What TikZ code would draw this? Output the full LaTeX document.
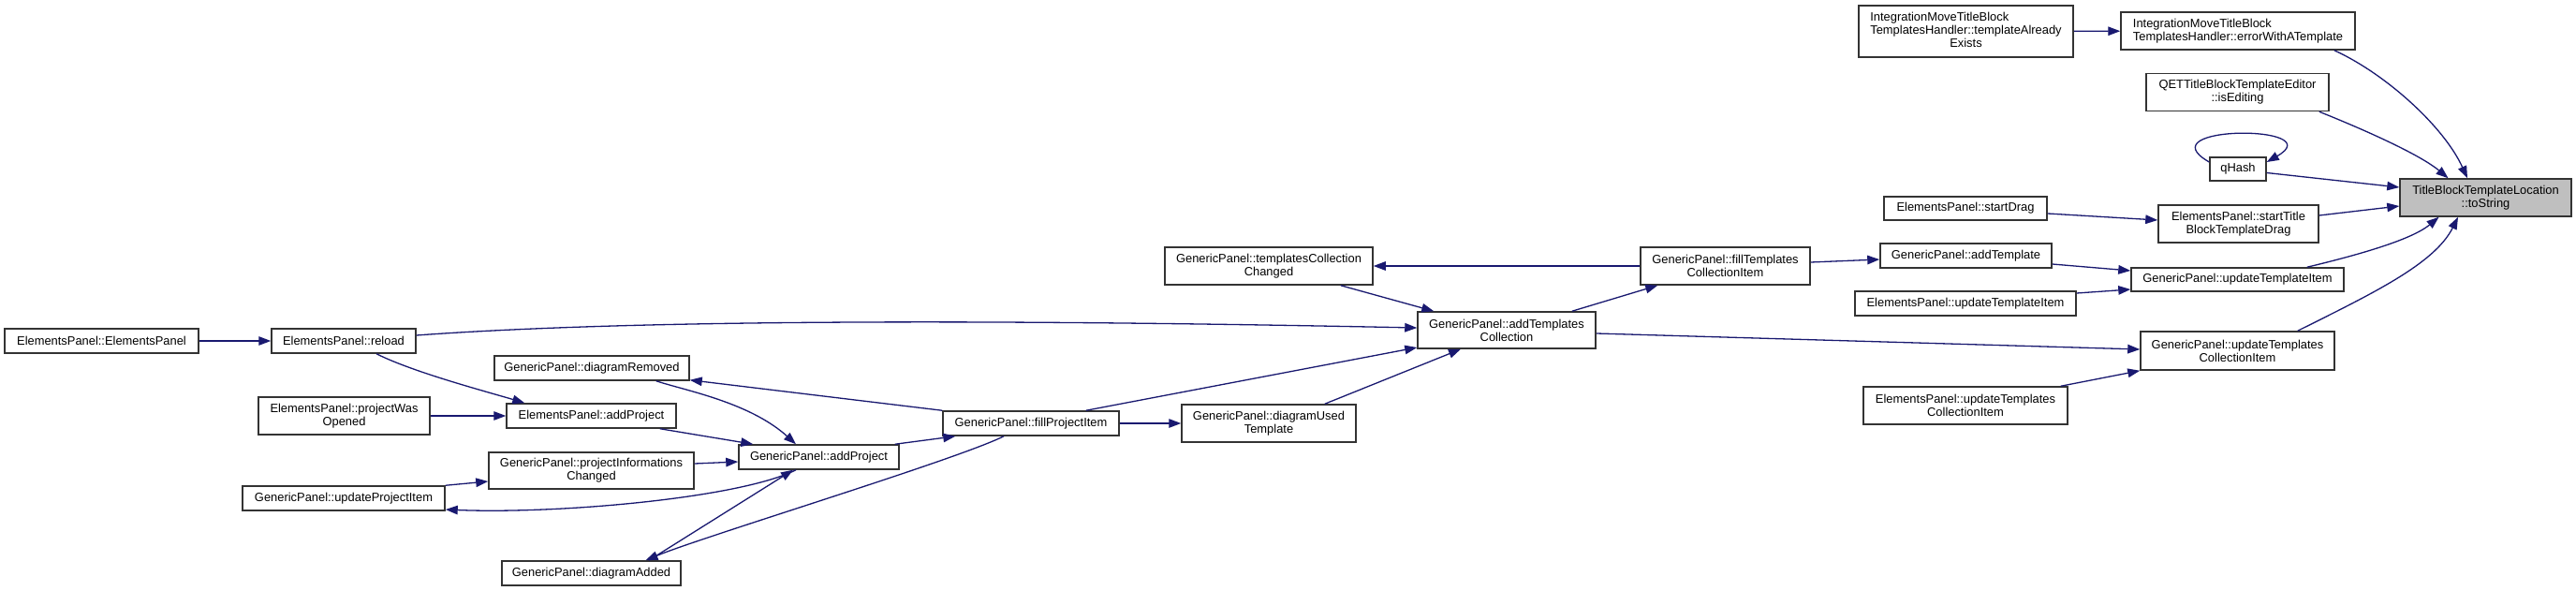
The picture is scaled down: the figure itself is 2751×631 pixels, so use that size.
\documentclass[tikz,border=0pt]{standalone}
\usepackage{fontspec}
\newfontfamily\graphfont{Liberation Sans}
\usetikzlibrary{arrows.meta}
\definecolor{midnight}{HTML}{191970}

\begin{document}
\begin{tikzpicture}[
  x=1pt,
  y=-1pt,
  fn/.style={
    draw=black!80,
    fill=white,
    line width=1.5pt,
    inner sep=0pt,
    align=center,
    font=\graphfont\fontsize{12.9}{14}\selectfont
  },
  root fn/.style={
    fn,
    fill=black!25
  },
  dims/.style 2 args={
    minimum width=#1,
    minimum height=#2
  },
  call/.style={
    draw=midnight,
    line width=1.3pt,
    -{Triangle[length=13pt,width=9.5pt]}
  },
]
\fill[white] (0,0) rectangle (2751,631);
\useasboundingbox (0,0) rectangle (2751,631);

% functions
\node[root fn, dims={183}{40}] (toString) at (2654.5,211) {TitleBlockTemplateLocation\\::toString};
\node[fn, dims={250}{40}, align=left] (errorTemplate) at (2390,33) {IntegrationMoveTitleBlock\\TemplatesHandler::errorWithATemplate};
\node[fn, dims={229}{55}] (alreadyExists) at (2099.5,33.5) {\begin{tabular}{@{}l@{}}IntegrationMoveTitleBlock\\TemplatesHandler::templateAlready\\\multicolumn{1}{@{}c@{}}{Exists}\end{tabular}};
\node[fn, dims={195}{40}] (isEditing) at (2389.5,98.5) {QETTitleBlockTemplateEditor\\::isEditing};
\node[fn, dims={60}{25}] (qHash) at (2390,180.5) {qHash};
\node[fn, dims={174}{25}] (startDrag) at (2099,222.5) {ElementsPanel::startDrag};
\node[fn, dims={171}{40}] (startTitleDrag) at (2390.5,239) {ElementsPanel::startTitle\\BlockTemplateDrag};
\node[fn, dims={183}{26}] (addTemplate) at (2099.5,273) {GenericPanel::addTemplate};
\node[fn, dims={227}{25}] (gpUpdateTemplate) at (2389.5,298.5) {GenericPanel::updateTemplateItem};
\node[fn, dims={236}{26}] (epUpdateTemplate) at (2099,324) {ElementsPanel::updateTemplateItem};
\node[fn, dims={207}{41}] (gpUpdateCollection) at (2389.5,374.5) {GenericPanel::updateTemplates\\CollectionItem};
\node[fn, dims={218}{40}] (epUpdateCollection) at (2099,433) {ElementsPanel::updateTemplates\\CollectionItem};
\node[fn, dims={222}{40}] (collectionChanged) at (1355,284) {GenericPanel::templatesCollection\\Changed};
\node[fn, dims={181}{40}] (fillCollection) at (1842.5,284) {GenericPanel::fillTemplates\\CollectionItem};
\node[fn, dims={190}{39}] (addCollection) at (1609,352.5) {GenericPanel::addTemplates\\Collection};
\node[fn, dims={186}{40}] (diagramUsedTemplate) at (1355,452) {GenericPanel::diagramUsed\\Template};
\node[fn, dims={188}{26}] (fillProject) at (1101,452) {GenericPanel::fillProjectItem};
\node[fn, dims={171}{26}] (gpAddProject) at (874.5,488) {GenericPanel::addProject};
\node[fn, dims={208}{26}] (diagramRemoved) at (632,393) {GenericPanel::diagramRemoved};
\node[fn, dims={181}{26}] (epAddProject) at (631.5,444) {ElementsPanel::addProject};
\node[fn, dims={219}{39}] (infoChanged) at (631.5,502.5) {GenericPanel::projectInformations\\Changed};
\node[fn, dims={191}{26}] (diagramAdded) at (631.5,612) {GenericPanel::diagramAdded};
\node[fn, dims={216}{26}] (updateProject) at (367,532) {GenericPanel::updateProjectItem};
\node[fn, dims={183}{40}] (projectWasOpened) at (367.5,444) {ElementsPanel::projectWas\\Opened};
\node[fn, dims={154}{26}] (reload) at (367,364) {ElementsPanel::reload};
\node[fn, dims={207}{26}] (epConstructor) at (108.5,364) {ElementsPanel::ElementsPanel};

% calls
\draw[call] (alreadyExists) -- (errorTemplate);
\draw[call] ([xshift=-23pt]errorTemplate.south east) .. controls +(55,25) and +(-25,-55) .. ([xshift=-19.5pt]toString.north);
\draw[call] ([xshift=-11pt]isEditing.south east) .. controls +(50,20) and +(-30,-25) .. ([xshift=-40pt]toString.north);
\draw[call] ([yshift=7.5pt]qHash.west) .. controls +(-70,-40) and +(70,-40) .. ([yshift=7.5pt]qHash.east);
\draw[call] ([yshift=-4pt]qHash.east) -- ([yshift=11pt]toString.west);
\draw[call] ([yshift=-5.5pt]startDrag.east) -- ([yshift=4pt]startTitleDrag.west);
\draw[call] ([yshift=9pt]startTitleDrag.east) -- ([yshift=-9pt]toString.west);
\draw[call] ([xshift=-40pt]gpUpdateTemplate.north east) .. controls +(50,-12) and +(-30,25) .. ([xshift=-50pt]toString.south);
\draw[call] ([xshift=-40pt]gpUpdateCollection.north east) .. controls +(80,-40) and +(-25,50) .. ([xshift=-29.5pt]toString.south);
\draw[call] ([yshift=-9pt]addTemplate.east) -- ([yshift=9.5pt]gpUpdateTemplate.west);
\draw[call] ([yshift=11pt]epUpdateTemplate.east) -- ([yshift=-10.5pt]gpUpdateTemplate.west);
\draw[call] ([xshift=-8pt]epUpdateCollection.north east) -- (gpUpdateCollection.south west);
\draw[call] ([yshift=-3.5pt]addCollection.east) -- ([yshift=1.5pt]gpUpdateCollection.west);
\draw[call] ([yshift=4pt]fillCollection.east) -- ([yshift=-4pt]addTemplate.west);
\draw[call] (fillCollection) -- (collectionChanged);
\draw[call] ([xshift=-35pt]collectionChanged.south east) -- ([xshift=18pt]addCollection.north west);
\draw[call] ([xshift=-26pt]addCollection.north east) -- ([xshift=19pt]fillCollection.south west);
\draw[call] ([yshift=6pt]reload.east) .. controls +(300,-22) and +(-250,-5) .. ([yshift=2.5pt]addCollection.west);
\draw[call] ([xshift=-36pt]fillProject.north east) -- ([yshift=-18.5pt]addCollection.west);
\draw[call] ([xshift=-34pt]diagramUsedTemplate.north east) -- ([xshift=-49pt]addCollection.south);
\draw[call] (fillProject) -- (diagramUsedTemplate);
\draw[call] (fillProject.north west) -- ([yshift=1pt]diagramRemoved.south east);
\draw[call] ([xshift=-36pt]diagramRemoved.south east) .. controls +(30,10) and +(-50,-45) .. ([xshift=-24.5pt]gpAddProject.north);
\draw[call] ([xshift=-18pt]epAddProject.south east) -- ([xshift=16pt]gpAddProject.north west);
\draw[call] ([yshift=7.5pt]infoChanged.east) -- ([yshift=-5pt]gpAddProject.west);
\draw[call] ([xshift=-5pt]gpAddProject.north east) -- ([xshift=14pt]fillProject.south west);
\draw[call] ([xshift=35pt]reload.south) .. controls +(40,20) and +(-40,-12) .. ([xshift=20pt]epAddProject.north west);
\draw[call] (epConstructor) -- (reload);
\draw[call] (projectWasOpened) -- (epAddProject);
\draw[call] (updateProject.north east) -- ([yshift=-11.5pt]infoChanged.west);
\draw[call] ([xshift=-24.5pt]gpAddProject.south) .. controls +(-60,30) and +(120,5) .. ([yshift=-12pt]updateProject.east);
\draw[call] ([xshift=61.5pt]diagramAdded.north) -- ([xshift=-27.5pt]gpAddProject.south);
\draw[call] ([xshift=-29pt]fillProject.south) .. controls +(-50,25) and +(60,-25) .. ([xshift=58pt]diagramAdded.north);
\end{tikzpicture}
\end{document}
